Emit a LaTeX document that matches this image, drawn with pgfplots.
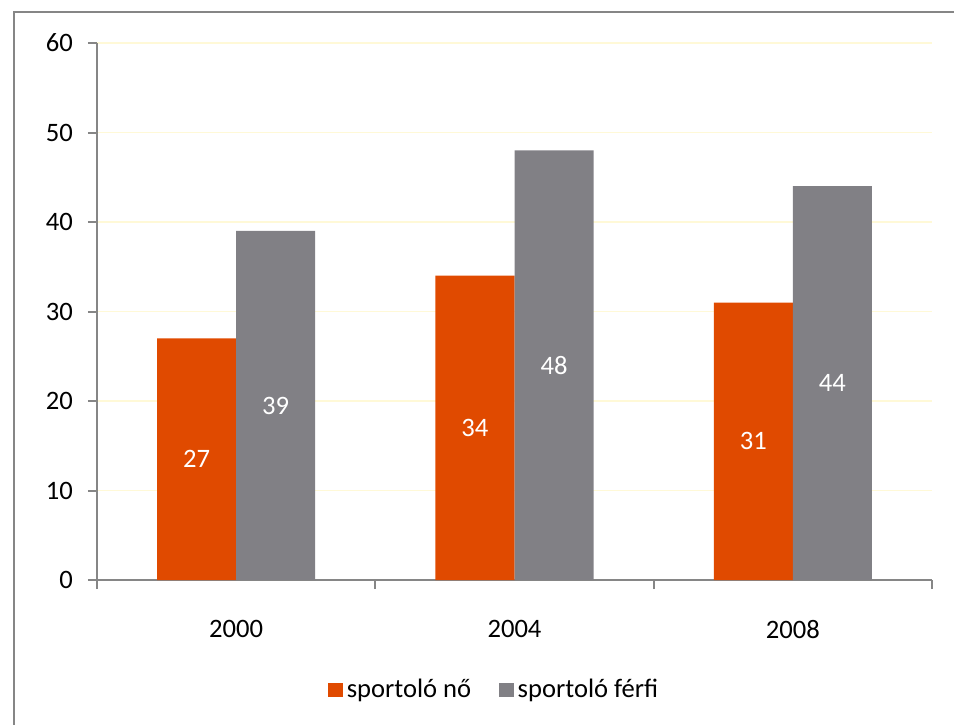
\documentclass[border=0pt]{standalone}
\usepackage{fontspec}
\setmainfont{Carlito}
\usepackage{pgfplots}
\pgfplotsset{compat=1.18}
\definecolor{noOrange}{RGB}{224,74,0}
\definecolor{ferfiGray}{RGB}{129,128,133}
\definecolor{axisGray}{RGB}{134,134,134}
\definecolor{gridYellow}{RGB}{255,249,215}
\begin{document}
\begin{tikzpicture}
\useasboundingbox (-48.5pt,-72pt) rectangle (428.5pt,290pt);
\draw[axisGray, line width=0.8pt] (-41.5pt,-90pt) -- (-41.5pt,284pt) -- (440pt,284pt);
\begin{axis}[
    at={(0pt,0pt)}, anchor=south west,
    scale only axis,
    width=417.5pt, height=268.5pt,
    xmin=-0.5, xmax=2.5, ymin=0, ymax=60,
    ybar=0pt, bar width=0.284,
    axis x line*=bottom, axis y line*=left,
    axis line style={axisGray, line width=1pt, -},
    xtick={0,1,2}, xticklabels={2000,2004,2008},
    major x tick style={draw=none},
    extra x ticks={-0.5,0.5,1.5,2.5}, extra x tick labels={},
    extra x tick style={major x tick style={draw=axisGray, line width=1pt}},
    ytick={0,10,...,60},
    tick align=outside, major tick length=4.5pt,
    ytick style={axisGray, line width=1pt},
    ymajorgrids, grid style={gridYellow, line width=0.8pt},
    /pgf/number format/assume math mode=true,
    tick label style={font=\fontsize{13.3}{15}\selectfont, black},
    yticklabel style={xshift=-4pt},
    xticklabel style={yshift=-12pt},
    visualization depends on=rawy \as \rawy,
    nodes near coords,
    nodes near coords align={center},
    every node near coord/.append style={font=\fontsize{13.3}{15}\selectfont, white, anchor=center, yshift=-\rawy*2.2375pt},
    legend style={at={(0.477,-0.205)}, anchor=center, draw=none, font=\fontsize{13.3}{15}\selectfont,
        /tikz/every even column/.append style={column sep=12pt}},
    legend columns=2,
    legend image code/.code={\fill[#1] (0pt,-3.6pt) rectangle (7.2pt,3.6pt);},
]
\addplot[fill=noOrange, draw=none] coordinates {(0,27) (1,34) (2,31)};
\addlegendentry{sportoló nő}
\addplot[fill=ferfiGray, draw=none] coordinates {(0,39) (1,48) (2,44)};
\addlegendentry{sportoló férfi}
\end{axis}
\end{tikzpicture}
\end{document}
